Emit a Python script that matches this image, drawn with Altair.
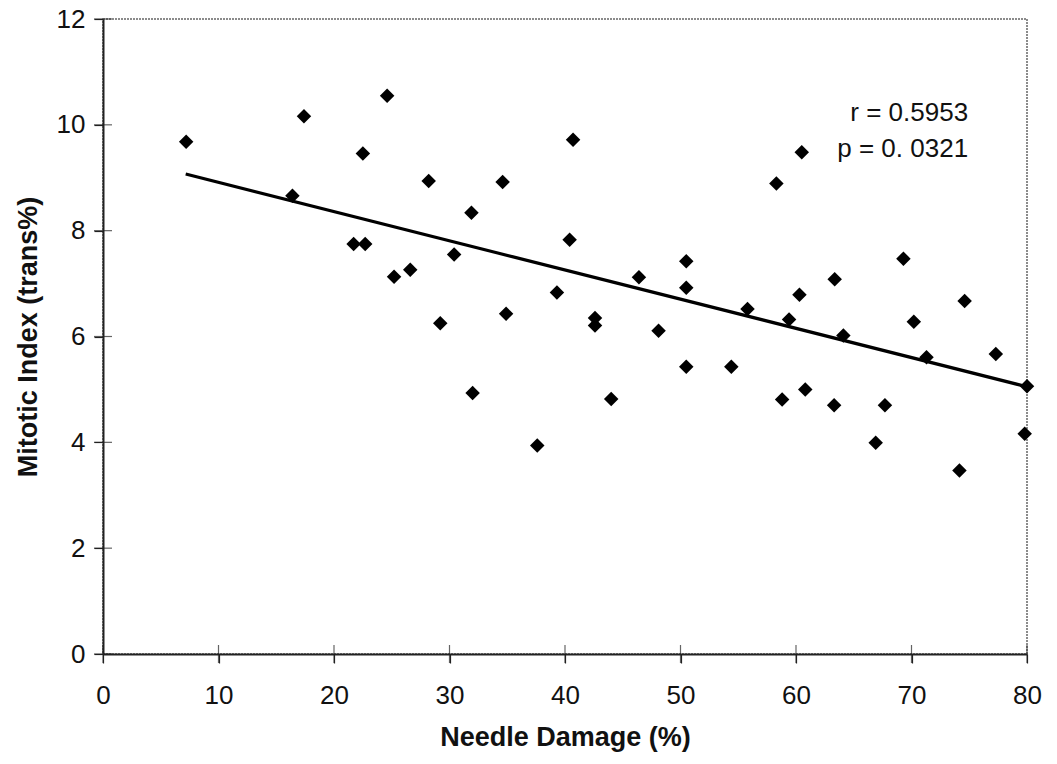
import altair as alt
import pandas as pd

# Needle damage (%) and mitotic index (trans%)
damage = [7.2, 16.4, 17.4, 24.6, 22.5, 21.7, 22.7, 25.2, 26.6, 28.2, 30.4, 29.2,
          31.9, 34.6, 34.9, 32.0, 37.6, 40.7, 40.4, 39.3, 42.6, 42.6, 44.0, 46.4,
          48.1, 50.5, 50.5, 50.5, 54.4, 55.8, 58.3, 58.8, 59.4, 60.3, 60.5, 60.8,
          63.35, 63.3, 64.1, 66.9, 67.7, 69.3, 70.2, 71.3, 74.15, 74.6, 77.3, 79.8, 80.0]
mitotic = [9.68, 8.66, 10.16, 10.55, 9.46, 7.75, 7.75, 7.13, 7.26, 8.94, 7.55, 6.25,
           8.34, 8.92, 6.43, 4.93, 3.94, 9.72, 7.83, 6.83, 6.35, 6.21, 4.82, 7.12,
           6.11, 7.42, 6.92, 5.43, 5.43, 6.52, 8.89, 4.81, 6.32, 6.79, 9.48, 5.00,
           7.08, 4.70, 6.02, 3.99, 4.70, 7.47, 6.28, 5.61, 3.47, 6.67, 5.67, 4.16, 5.06]

# Regression line end points
fit_x = [7.16, 80.0]
fit_y = [9.07, 5.05]

# Annotation
note_text = ["r = 0.5953", "p = 0. 0321"]
note_x = [74.9, 74.9]
note_y = [10.08, 9.40]

x_ticks = [0, 10, 20, 30, 40, 50, 60, 70, 80]
y_ticks = [0, 2, 4, 6, 8, 10, 12]

W, H = 924, 635
FONT = "Liberation Sans"

pts = pd.DataFrame({"x": damage, "y": mitotic})
fit = pd.DataFrame({"x": fit_x, "y": fit_y})
notes = pd.DataFrame({"x": note_x, "y": note_y, "t": note_text})
xt = pd.DataFrame({"x": x_ticks})
yt = pd.DataFrame({"y": y_ticks})

xscale = alt.Scale(domain=[0, 80], nice=False, zero=False)
yscale = alt.Scale(domain=[0, 12], nice=False, zero=False)

xaxis = alt.Axis(values=x_ticks, title="Needle Damage (%)", grid=False,
                 tickSize=9, tickColor="#222", tickWidth=1.2,
                 domainColor="#222", domainWidth=2, labelFlush=False,
                 labelFont=FONT, labelFontSize=26, labelColor="#111",
                 labelPadding=19,
                 titleFont=FONT, titleFontSize=27, titleFontWeight="bold",
                 titleColor="#111", titlePadding=16)
yaxis = alt.Axis(values=y_ticks, title="Mitotic Index (trans%)", grid=False,
                 tickSize=9, tickColor="#222", tickWidth=1.2,
                 domainColor="#222", domainWidth=2, labelFlush=False,
                 labelFont=FONT, labelFontSize=26, labelColor="#111",
                 labelPadding=9,
                 titleFont=FONT, titleFontSize=27, titleFontWeight="bold",
                 titleColor="#111", titlePadding=14)

points = alt.Chart(pts).mark_point(shape="diamond", filled=True, size=210,
                                   color="#000", opacity=1).encode(
    x=alt.X("x:Q", scale=xscale, axis=xaxis),
    y=alt.Y("y:Q", scale=yscale, axis=yaxis),
)

line = alt.Chart(fit).mark_line(color="#000", strokeWidth=3.2).encode(
    x=alt.X("x:Q", scale=xscale),
    y=alt.Y("y:Q", scale=yscale),
)

text = alt.Chart(notes).mark_text(align="right", baseline="alphabetic",
                                  font=FONT, fontSize=26, color="#111").encode(
    x=alt.X("x:Q", scale=xscale),
    y=alt.Y("y:Q", scale=yscale),
    text="t:N",
)

xinner = alt.Chart(xt).mark_tick(orient="vertical", size=18, thickness=1.2,
                                 color="#222").encode(
    x=alt.X("x:Q", scale=xscale),
    y=alt.value(H),
)
yinner = alt.Chart(yt).mark_tick(orient="horizontal", size=18, thickness=1.2,
                                 color="#222").encode(
    y=alt.Y("y:Q", scale=yscale),
    x=alt.value(0),
)

chart = alt.layer(xinner, yinner, line, points, text).properties(
    width=W, height=H,
    autosize=alt.AutoSizeParams(type="none"),
    padding={"left": 103, "top": 19, "right": 30, "bottom": 110},
    background="white",
).configure_view(
    stroke="#666", strokeWidth=1.5, strokeDash=[2, 1]
)

chart.save("out.html", embed_options={"renderer": "svg", "actions": False})
